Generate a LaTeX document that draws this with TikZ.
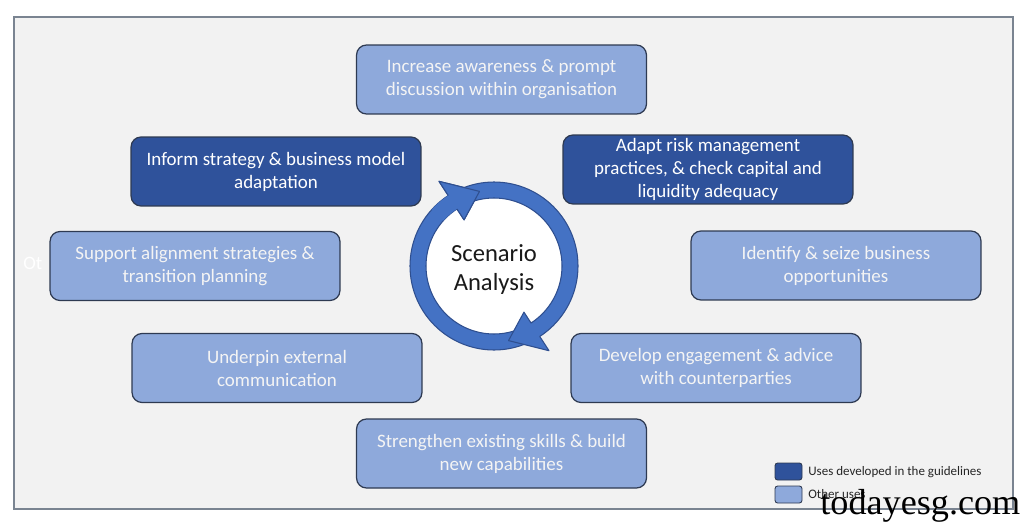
\documentclass[tikz,border=0pt]{standalone}
\usepackage{fontspec}
\setmainfont{Carlito}
\newfontfamily\wmfont{Liberation Serif}
\definecolor{bggrey}{HTML}{F2F2F2}
\definecolor{framecol}{HTML}{7A8491}
\definecolor{darkfill}{HTML}{2F529B}
\definecolor{lightfill}{HTML}{8EA9DB}
\definecolor{boxline}{HTML}{2E3A52}
\definecolor{bandfill}{HTML}{4472C4}
\definecolor{bandline}{HTML}{2F4F8F}
\definecolor{lighttext}{HTML}{F4F4F4}
\begin{document}
\begin{tikzpicture}[x=0.02cm,y=-0.02cm,
  usebox/.style={rectangle, rounded corners=0.2cm, minimum width=5.8cm, minimum height=1.38cm,
    draw=boxline, line width=0.7pt, align=center, inner sep=0pt,
    font=\fontsize{10.8}{13.1}\selectfont},
  darkbox/.style={usebox, fill=darkfill, text=white},
  lightbox/.style={usebox, fill=lightfill, text=lighttext},
  legbox/.style={rectangle, rounded corners=1.5pt, minimum width=0.54cm, minimum height=0.34cm,
    draw=boxline, line width=0.5pt, inner sep=0pt},
  legtext/.style={anchor=west, inner sep=0pt, text=black!85, font=\fontsize{7.4}{9}\selectfont},
  band/.style={fill=bandfill, draw=bandline, line width=0.6pt, line join=round}
]
\useasboundingbox (0,0) rectangle (1024,524);
\fill[white] (0,0) rectangle (1024,524);
\draw[framecol, line width=1.6pt, fill=bggrey] (14,17) rectangle (1013,509);

% ghost text
\node[anchor=west, inner sep=0pt, text=white, font=\fontsize{10.8}{13}\selectfont] (ghost) at (23,263) {Ot};

% boxes
\node[lightbox] (aware) at (501.5,79.5) {Increase awareness \& prompt\\discussion within organisation};
\node[darkbox] (inform) at (276,171.5) {Inform strategy \& business model\\adaptation};
\node[darkbox] (adapt) at (708,169.5) {Adapt risk management\\practices, \& check capital and\\liquidity adequacy};
\node[lightbox] (support) at (195,266) {Support alignment strategies \&\\transition planning};
\node[lightbox] (identify) at (836,265.5) {Identify \& seize business\\opportunities};
\node[lightbox] (underpin) at (277,368) {Underpin external\\communication};
\node[lightbox] (develop) at (716,368) {Develop engagement \& advice\\with counterparties};
\node[lightbox] (strength) at (501.5,453.5) {Strengthen existing skills \& build\\new capabilities};

% central circle
\def\cx{494}\def\cy{266}
\fill[white] (\cx,\cy) circle[radius=68];
% arrow A (left/bottom band), clockwise on screen from 60 to 237 deg
\draw[band] plot[domain=60:237, samples=60] ({\cx+84*cos(\x)},{\cy+84*sin(\x)})
  -- ({\cx+101*cos(237)},{\cy+101*sin(237)})
  -- ({\cx+76*cos(259)},{\cy+76*sin(259)})
  -- ({\cx+55*cos(237)},{\cy+55*sin(237)})
  -- plot[domain=237:60, samples=60] ({\cx+68*cos(\x)},{\cy+68*sin(\x)}) -- cycle;
% arrow B (top/right band), from 240 to 417 deg
\draw[band] plot[domain=240:417, samples=60] ({\cx+84*cos(\x)},{\cy+84*sin(\x)})
  -- ({\cx+101*cos(417)},{\cy+101*sin(417)})
  -- ({\cx+76*cos(439)},{\cy+76*sin(439)})
  -- ({\cx+55*cos(417)},{\cy+55*sin(417)})
  -- plot[domain=417:240, samples=60] ({\cx+68*cos(\x)},{\cy+68*sin(\x)}) -- cycle;
% head of arrow A on top of start of B
\fill[bandfill] plot[domain=222:237, samples=10] ({\cx+84*cos(\x)},{\cy+84*sin(\x)})
  -- ({\cx+101*cos(237)},{\cy+101*sin(237)})
  -- ({\cx+76*cos(259)},{\cy+76*sin(259)})
  -- ({\cx+55*cos(237)},{\cy+55*sin(237)})
  -- plot[domain=237:222, samples=10] ({\cx+68*cos(\x)},{\cy+68*sin(\x)}) -- cycle;
\draw[bandline, line width=0.6pt, line join=round]
  ({\cx+84*cos(237)},{\cy+84*sin(237)})
  -- ({\cx+101*cos(237)},{\cy+101*sin(237)})
  -- ({\cx+76*cos(259)},{\cy+76*sin(259)})
  -- ({\cx+55*cos(237)},{\cy+55*sin(237)})
  -- ({\cx+68*cos(237)},{\cy+68*sin(237)});
\node[align=center, inner sep=0pt, text=black!90, font=\fontsize{14}{16.5}\selectfont] (scen) at (\cx,\cy+4) {Scenario\\Analysis};

% legend
\node[legbox, fill=darkfill] (legdark) at (788.5,471.5) {};
\node[legbox, fill=lightfill] (leglight) at (788.5,494.5) {};
\node[legtext] (legdarkt) at (808,472) {Uses developed in the guidelines};
\node[legtext] (leglightt) at (808,494.5) {Other uses};

% watermark
\node[anchor=base west, inner sep=0pt, text=black, font=\wmfont\fontsize{20.6}{24}\selectfont] (wm) at (820,514) {todayesg.com};
\end{tikzpicture}
\end{document}
